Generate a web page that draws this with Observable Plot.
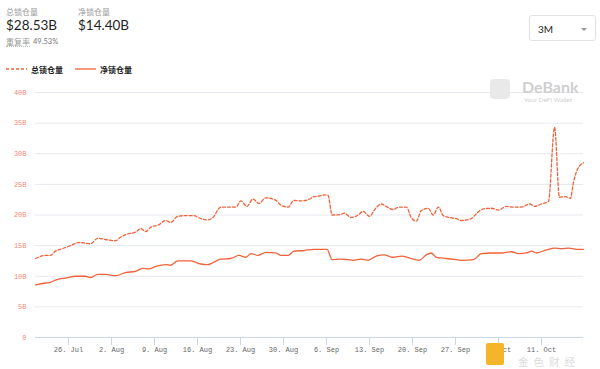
<!DOCTYPE html>
<html>
<head>
<meta charset="utf-8">
<script src="https://cdn.jsdelivr.net/npm/d3@7"></script>
<script src="https://cdn.jsdelivr.net/npm/@observablehq/plot@0.6"></script>
<style>
  html, body { margin: 0; padding: 0; background: #fff; }
  body { width: 600px; height: 369px; position: relative; overflow: hidden; font-family: Lato, "Noto Sans", "Noto Sans CJK SC", sans-serif; }
  #chart { position: absolute; left: 0; top: 0; }
  .abs { position: absolute; white-space: nowrap; }
  .lbl { font-family: "Noto Sans CJK SC", sans-serif; font-size: 8px; color: #9a9a9a; line-height: 1; }
  .big { font-size: 13.5px; color: #1f1f1f; line-height: 1; }
  .leg { font-family: "Noto Sans CJK SC", sans-serif; font-size: 8px; font-weight: bold; color: #222; line-height: 1; }
</style>
</head>
<body>
<div id="chart"></div>

<div class="abs lbl" style="left:6px;top:8px;">总锁仓量</div>
<div class="abs big" style="left:6px;top:19px;">$28.53B</div>
<div class="abs lbl" style="left:78px;top:8px;">净锁仓量</div>
<div class="abs big" style="left:78px;top:19px;">$14.40B</div>
<div class="abs lbl" style="left:6px;top:38px;border-bottom:1px dotted #bbb;">重复率</div>
<div class="abs" style="left:33px;top:38px;font-size:7.5px;color:#777;line-height:1;">49.53%</div>

<svg class="abs" style="left:6px;top:66px;" width="22" height="6"><line x1="0" y1="3" x2="21" y2="3" stroke="#f0633a" stroke-width="1.3" stroke-dasharray="3,2"/></svg>
<div class="abs leg" style="left:31px;top:66px;">总锁仓量</div>
<svg class="abs" style="left:75px;top:66px;" width="22" height="6"><line x1="0" y1="3" x2="21" y2="3" stroke="#f0633a" stroke-width="1.3"/></svg>
<div class="abs leg" style="left:100px;top:66px;">净锁仓量</div>

<div class="abs" style="left:529px;top:15px;width:67px;height:26px;border:1px solid #e2e2e2;border-radius:3px;box-sizing:border-box;">
  <div class="abs" style="left:8px;top:8px;font-size:10px;color:#222;line-height:1;">3M</div>
  <div class="abs" style="left:51px;top:12px;width:0;height:0;border-left:3px solid transparent;border-right:3px solid transparent;border-top:3px solid #999;"></div>
</div>

<div class="abs" style="left:490px;top:79px;width:20px;height:20px;border-radius:4px;background:#e9e9e9;"></div>
<div class="abs" style="left:522px;top:79px;font-size:16px;font-weight:bold;color:#cfcfcf;line-height:1;">DeBank</div>
<div class="abs" style="left:524px;top:97px;font-size:6.5px;color:#cfcfcf;line-height:1;">Your DeFi Wallet</div>

<div class="abs" style="left:486px;top:343px;width:18px;height:22px;background:#f5b52a;border-radius:2px;"></div>
<div class="abs" style="left:518px;top:357px;font-family:'Noto Sans CJK SC';font-size:10.5px;color:#dcdcdc;line-height:1;letter-spacing:5px;">金色财经</div>

<script>
// ---- data ----
const totalDates = [
  "2021-07-20T15","2021-07-22T06","2021-07-23T01","2021-07-23T21","2021-07-25T00","2021-07-26T08",
  "2021-07-27T15","2021-07-28T18","2021-07-29T14","2021-07-30T18","2021-08-01T01","2021-08-02T16",
  "2021-08-03T12","2021-08-04T15","2021-08-05T22","2021-08-06T18","2021-08-07T13","2021-08-08T09",
  "2021-08-09T16","2021-08-10T20","2021-08-11T15","2021-08-12T19","2021-08-14T02","2021-08-15T09",
  "2021-08-16T13","2021-08-17T16","2021-08-18T12","2021-08-19T19","2021-08-21T02","2021-08-22T06",
  "2021-08-23T01","2021-08-24T01","2021-08-25T00","2021-08-26T00","2021-08-27T03","2021-08-28T18",
  "2021-08-29T14","2021-08-30T18","2021-08-31T17","2021-09-01T20","2021-09-03T00","2021-09-03T23",
  "2021-09-04T19","2021-09-05T22","2021-09-06T06","2021-09-06T22","2021-09-08T09","2021-09-08T21",
  "2021-09-10T00","2021-09-11T04","2021-09-11T23","2021-09-12T23","2021-09-14T02","2021-09-14T22",
  "2021-09-15T17","2021-09-16T20","2021-09-17T20","2021-09-19T00","2021-09-19T19","2021-09-20T15",
  "2021-09-21T10","2021-09-22T13","2021-09-23T09","2021-09-24T05","2021-09-25T00","2021-09-26T00",
  "2021-09-27T03","2021-09-27T23","2021-09-29T14","2021-09-30T09","2021-10-01T13","2021-10-02T20",
  "2021-10-04T00","2021-10-05T07","2021-10-06T10","2021-10-07T18","2021-10-09T01","2021-10-09T21",
  "2021-10-11T00","2021-10-12T03","2021-10-13T03","2021-10-13T22","2021-10-14T22","2021-10-15T17",
  "2021-10-16T05","2021-10-16T21","2021-10-17T20"
];
const totalValues = [
  12.9, 13.4, 13.4, 14.1, 14.5, 15.0,
  15.5, 15.4, 15.3, 16.2, 16.0, 15.8,
  16.4, 16.9, 17.2, 17.8, 17.3, 18.0,
  18.4, 19.1, 18.8, 19.8, 19.9, 19.9,
  19.4, 19.2, 19.6, 21.3, 21.3, 21.3,
  22.3, 21.4, 22.6, 21.9, 22.8, 22.4,
  21.6, 21.3, 22.4, 22.3, 22.5, 23.0,
  23.1, 23.3, 23.2, 20.0, 20.1, 20.3,
  19.6, 20.0, 20.6, 19.8, 21.2, 21.8,
  21.4, 20.9, 21.3, 21.3, 19.6, 19.0,
  20.7, 21.1, 20.0, 21.3, 19.9, 19.6,
  19.4, 19.1, 19.4, 20.2, 21.0, 21.1,
  20.8, 21.4, 21.3, 21.3, 21.8, 21.4,
  21.8, 22.2, 34.3, 22.9, 23.0, 22.7,
  25.4, 27.5, 28.53
];
const netDates = [
  "2021-07-20T15","2021-07-22T06","2021-07-23T01","2021-07-24T05","2021-07-25T12","2021-07-27T03",
  "2021-07-28T18","2021-07-29T14","2021-07-30T18","2021-08-01T01","2021-08-02T16","2021-08-04T07",
  "2021-08-05T22","2021-08-07T02","2021-08-08T01","2021-08-09T05","2021-08-10T20","2021-08-11T15",
  "2021-08-12T19","2021-08-14T22","2021-08-16T13","2021-08-17T16","2021-08-18T16","2021-08-19T19",
  "2021-08-21T10","2021-08-22T18","2021-08-23T21","2021-08-24T17","2021-08-25T20","2021-08-27T03",
  "2021-08-28T18","2021-08-29T14","2021-08-30T18","2021-08-31T17","2021-09-02T08","2021-09-03T23",
  "2021-09-05T03","2021-09-06T02","2021-09-06T22","2021-09-08T09","2021-09-09T12","2021-09-10T08",
  "2021-09-11T15","2021-09-12T19","2021-09-14T02","2021-09-15T09","2021-09-16T20","2021-09-18T06",
  "2021-09-19T11","2021-09-21T02","2021-09-22T06","2021-09-23T01","2021-09-23T21","2021-09-25T12",
  "2021-09-27T03","2021-09-27T23","2021-09-29T22","2021-10-01T05","2021-10-02T20","2021-10-04T11",
  "2021-10-06T02","2021-10-07T06","2021-10-08T13","2021-10-09T09","2021-10-10T04","2021-10-11T19",
  "2021-10-13T03","2021-10-14T06","2021-10-15T10","2021-10-16T17","2021-10-17T20"
];
const netValues = [
  8.6, 8.9, 9.0, 9.5, 9.7, 10.0,
  10.0, 9.8, 10.3, 10.3, 10.1, 10.6,
  10.8, 11.3, 11.2, 11.6, 11.9, 11.8,
  12.5, 12.5, 12.0, 11.9, 12.3, 12.8,
  12.9, 13.4, 13.1, 13.7, 13.4, 13.9,
  13.8, 13.4, 13.4, 14.1, 14.2, 14.4,
  14.4, 14.4, 12.7, 12.8, 12.7, 12.6,
  12.8, 12.6, 13.3, 13.5, 13.1, 13.3,
  13.0, 12.6, 13.5, 13.8, 13.1, 12.9,
  12.7, 12.6, 12.7, 13.7, 13.8, 13.8,
  14.0, 13.7, 13.8, 14.1, 13.8, 14.3,
  14.6, 14.5, 14.6, 14.4, 14.40
];
const yTicks = [0, 5, 10, 15, 20, 25, 30, 35, 40];
const yTickLabels = ["0", "5B", "10B", "15B", "20B", "25B", "30B", "35B", "40B"];
const xStart = "2021-07-20T15";
const xEnd = "2021-10-17T20";

// ---- build ----
const parse = s => new Date(s + ":00:00Z");
const total = totalDates.map((d, i) => ({date: parse(d), value: totalValues[i]}));
const net = netDates.map((d, i) => ({date: parse(d), value: netValues[i]}));
const lineColor = "#f0633a";
const mono = "'Liberation Mono', 'DejaVu Sans Mono', monospace";

const chart = Plot.plot({
  width: 600,
  height: 369,
  marginLeft: 35,
  marginRight: 17,
  marginTop: 92,
  marginBottom: 32,
  style: {background: "transparent", overflow: "visible"},
  x: {type: "utc", domain: [parse(xStart), parse(xEnd)]},
  y: {domain: [0, 40]},
  marks: [
    Plot.gridY(yTicks.slice(1), {stroke: "#e6e9f0", strokeOpacity: 1}),
    Plot.ruleY([0], {stroke: "#ccd6eb"}),
    Plot.axisY(yTicks, {
      tickSize: 0, tickPadding: 9, fontSize: 7, fill: "#f08a7a",
      fontFamily: mono, tickFormat: d => yTickLabels[yTicks.indexOf(d)], label: null
    }),
    Plot.axisX({
      ticks: d3.utcMonday.every(1), tickFormat: d3.utcFormat("%-d. %b"),
      tickSize: 8, tickPadding: 2, fontSize: 7, fill: "#666", stroke: "#ccd6eb",
      fontFamily: mono, label: null
    }),
    Plot.line(total, {x: "date", y: "value", stroke: lineColor, strokeWidth: 1.3, strokeDasharray: "3,2", curve: "monotone-x"}),
    Plot.line(net, {x: "date", y: "value", stroke: lineColor, strokeWidth: 1.3, curve: "monotone-x"})
  ]
});
document.getElementById("chart").appendChild(chart);
</script>
</body>
</html>
